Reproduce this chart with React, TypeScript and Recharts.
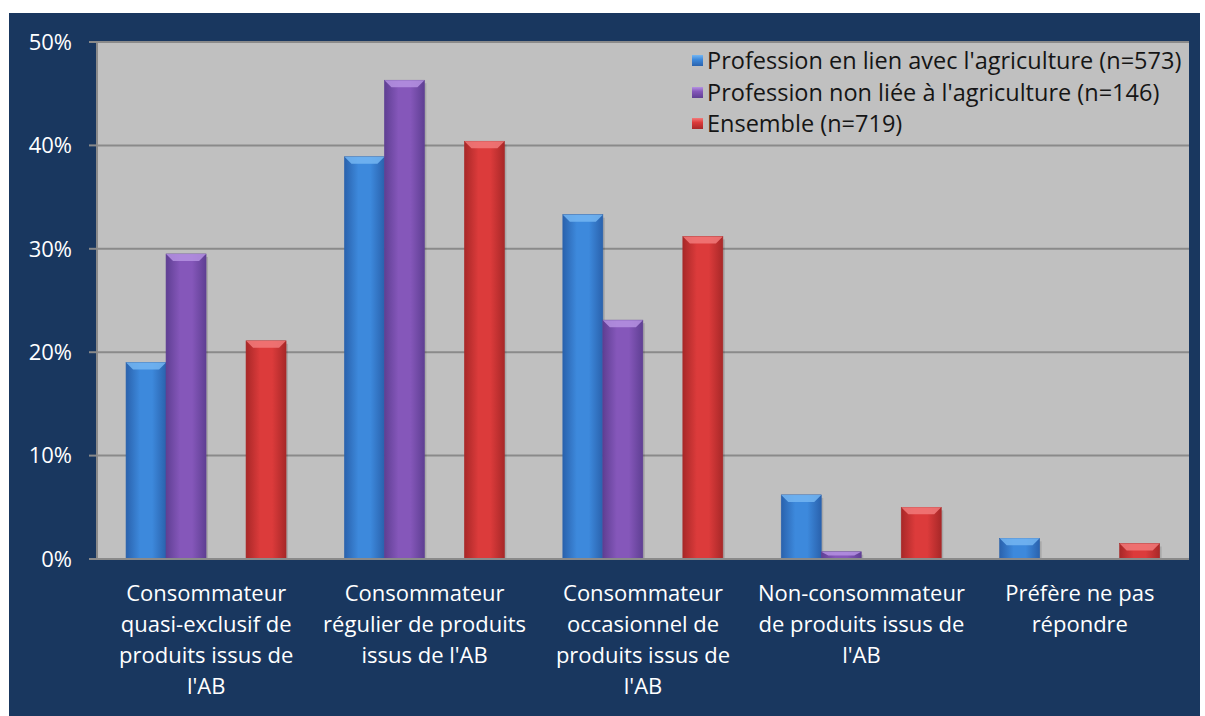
import { BarChart, Bar, XAxis, YAxis, CartesianGrid, Legend } from "recharts";

const categories = [
  "Consommateur\nquasi-exclusif de\nproduits issus de\nl'AB",
  "Consommateur\nrégulier de produits\nissus de l'AB",
  "Consommateur\noccasionnel de\nproduits issus de\nl'AB",
  "Non-consommateur\nde produits issus de\nl'AB",
  "Préfère ne pas\nrépondre",
];

const agriculture = [19.0, 38.9, 33.3, 6.2, 2.0];
const nonAgriculture = [29.5, 46.3, 23.1, 0.7, 0];
// empty series kept as a spacer, like in the original chart
const blank = [null, null, null, null, null];
const ensemble = [21.1, 40.4, 31.2, 5.0, 1.5];

const yTicks = [0, 10, 20, 30, 40, 50];

const FONT = "'Open Sans', Lato, sans-serif";

const SERIES = [
  {
    key: "agri",
    name: "Profession en lien avec l'agriculture (n=573)",
    dark: "#2a62ad",
    mid: "#3d89dc",
    top: "#74b6f2",
  },
  {
    key: "nonAgri",
    name: "Profession non liée à l'agriculture (n=146)",
    dark: "#5f3f93",
    mid: "#8557ba",
    top: "#b592e2",
  },
  {
    key: "ensemble",
    name: "Ensemble (n=719)",
    dark: "#a82828",
    mid: "#dc3b3b",
    top: "#f27a7a",
  },
];

const data = categories.map((name, i) => ({
  name,
  agri: agriculture[i],
  nonAgri: nonAgriculture[i],
  blank: blank[i],
  ensemble: ensemble[i],
}));

type Colors = (typeof SERIES)[number];

function makeShape(c: Colors) {
  return (props: any) => {
    const { x, y, width, height } = props;
    if (!height || height <= 0) return <g />;
    const bevel = Math.min(7, height / 2);
    const inset = Math.min(7, width / 4);
    return (
      <g>
        <rect x={x + 2} y={y + 3} width={width} height={height - 2} fill="rgba(0,0,0,0.12)" />
        <rect x={x} y={y} width={width} height={height} fill={`url(#grad-${c.key})`} stroke={c.dark} strokeWidth={0.6} />
        <polygon
          points={`${x},${y} ${x + width},${y} ${x + width - inset},${y + bevel} ${x + inset},${y + bevel}`}
          fill={c.top}
          opacity={0.85}
        />
      </g>
    );
  };
}

const XTick = ({ x, y, payload }: any) => {
  const lines = String(payload.value).split("\n");
  return (
    <g transform={`translate(${x},${y})`}>
      {lines.map((l, i) => (
        <text
          key={i}
          x={0}
          y={34 + i * 31}
          dy="0.35em"
          textAnchor="middle"
          fill="#ffffff"
          fontFamily={FONT}
          fontSize={22}
        >
          {l}
        </text>
      ))}
    </g>
  );
};

const renderLegend = () => (
  <div style={{ fontFamily: FONT, fontSize: 23.5, color: "#151515", lineHeight: "31.5px" }}>
    {SERIES.map((s) => (
      <div key={s.key} style={{ display: "flex", alignItems: "center", whiteSpace: "nowrap" }}>
        <span
          style={{
            display: "inline-block",
            width: 11,
            height: 11,
            marginRight: 4,
            background: `linear-gradient(to bottom, ${s.top}, ${s.mid} 40%, ${s.dark})`,
          }}
        />
        {s.name}
      </div>
    ))}
  </div>
);

export default function App() {
  return (
    <div
      style={{
        position: "absolute",
        left: 9,
        top: 13,
        width: 1191,
        height: 703,
        background: "#19375f",
      }}
    >
      <BarChart
        width={1191}
        height={703}
        data={data}
        margin={{ top: 29, right: 11, bottom: 0, left: 0 }}
        barCategoryGap="13.3%"
        barGap={0}
      >
        <defs>
          {SERIES.map((s) => (
            <linearGradient key={s.key} id={`grad-${s.key}`} x1="0" y1="0" x2="1" y2="0">
              <stop offset="0%" stopColor={s.dark} />
              <stop offset="35%" stopColor={s.mid} />
              <stop offset="65%" stopColor={s.mid} />
              <stop offset="100%" stopColor={s.dark} />
            </linearGradient>
          ))}
        </defs>
        <CartesianGrid vertical={false} fill="#c0c0c0" stroke="#8a8a8a" strokeWidth={2} />
        <XAxis
          dataKey="name"
          interval={0}
          height={157}
          tickLine={false}
          tickSize={0}
          tickMargin={0}
          axisLine={{ stroke: "#8a8a8a", strokeWidth: 2 }}
          tick={<XTick />}
        />
        <YAxis
          width={88}
          domain={[0, 50]}
          ticks={yTicks}
          tickFormatter={(v) => `${v}%`}
          tickSize={8}
          tickMargin={17}
          axisLine={{ stroke: "#8a8a8a", strokeWidth: 2 }}
          tickLine={{ stroke: "#8a8a8a", strokeWidth: 2 }}
          tick={{ fill: "#ffffff", fontFamily: FONT, fontSize: 22 }}
        />
        <Legend
          layout="vertical"
          align="center"
          verticalAlign="middle"
          content={renderLegend}
          wrapperStyle={{ top: 32, left: 683, width: "auto" }}
        />
        <Bar dataKey="agri" name={SERIES[0].name} fill={SERIES[0].mid} shape={makeShape(SERIES[0])} isAnimationActive={false} />
        <Bar dataKey="nonAgri" name={SERIES[1].name} fill={SERIES[1].mid} shape={makeShape(SERIES[1])} isAnimationActive={false} />
        <Bar dataKey="blank" legendType="none" fill="transparent" isAnimationActive={false} />
        <Bar dataKey="ensemble" name={SERIES[2].name} fill={SERIES[2].mid} shape={makeShape(SERIES[2])} isAnimationActive={false} />
      </BarChart>
    </div>
  );
}
